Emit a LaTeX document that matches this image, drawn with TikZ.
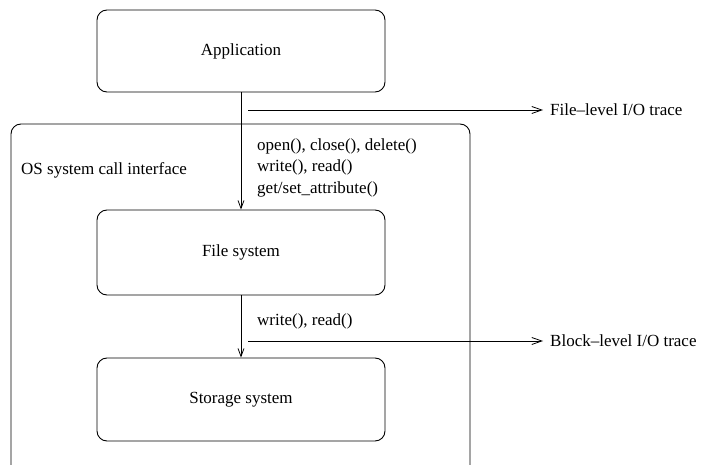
\documentclass[tikz,border=0pt]{standalone}
\usepackage{fontspec}
\setmainfont{Liberation Serif}
\usetikzlibrary{arrows.meta}
\begin{document}
\begin{tikzpicture}[x=1pt,y=-1pt,
  font=\fontsize{17}{20}\selectfont,
  layerbox/.style={draw, line width=0.9pt, rounded corners=10pt,
    minimum width=288pt, inner sep=0pt},
  callarrow/.style={draw, line width=0.9pt,
    -{Straight Barb[length=8pt,width=6pt,line width=0.8pt]}},
  tracearrow/.style={draw, line width=0.9pt,
    -{Straight Barb[length=10pt,width=7pt,line width=0.8pt]}},
  lbl/.style={inner sep=0pt, anchor=base west}]
\useasboundingbox (0,0) rectangle (701,465);
\begin{scope}
\clip (0,0) rectangle (701,465);
% operating system boundary, running off the lower edge
\draw[line width=0.9pt, rounded corners=10pt] (11,490) -- (11,124) -- (470,124) -- (470,490);
\end{scope}
\node[layerbox, minimum height=82pt] (app) at (241,51) {Application};
\node[layerbox, minimum height=85pt] (fs) at (241,252.5) {File system};
\node[layerbox, minimum height=83pt] (st) at (241,399.5) {Storage system};
\node[lbl] (os) at (21,175) {OS system call interface};
% calls between layers
\draw[callarrow] (app.south) -- (fs.north);
\draw[callarrow] (fs.south) -- (st.north);
\node[lbl] (c1) at (257,151) {open(), close(), delete()};
\node[lbl] (c2) at (257,172) {write(), read()};
\node[lbl] (c3) at (257,193.5) {get/set\_attribute()};
\node[lbl] (c4) at (257,325) {write(), read()};
% trace capture points
\coordinate (ft) at (248,110);
\coordinate (bt) at (248,341);
\node[anchor=west, inner sep=0pt] (ftl) at (550,110) {File--level I/O trace};
\node[anchor=west, inner sep=0pt] (btl) at (550,341) {Block--level I/O trace};
\draw[tracearrow] (ft) -- ([xshift=-7pt]ftl.west);
\draw[tracearrow] (bt) -- ([xshift=-7pt]btl.west);
\end{tikzpicture}
\end{document}
